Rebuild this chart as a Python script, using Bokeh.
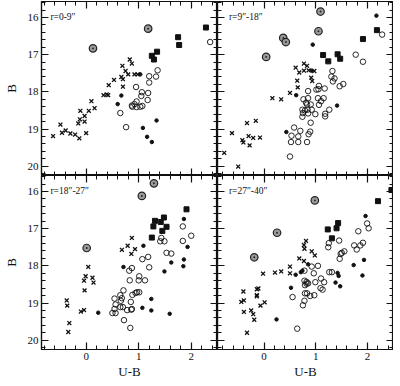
from bokeh.plotting import figure
from bokeh.layouts import gridplot
from bokeh.models import LinearAxis, Range1d, SingleIntervalTicker, CustomJSTickFormatter, Label
from bokeh.embed import file_html
from bokeh.resources import INLINE

# ---------------- data (U-B, B) ----------------
panel_labels = ["r=0-9″", "r=9″-18″", "r=18″-27″", "r=27″-40″"]

# Panel 1: r = 0-9"
p1_cross_x = [-0.63, -0.49, -0.46, -0.39, -0.30, -0.21, -0.13, 0.00, -0.15, -0.12, -0.03, -0.03, -0.11, 0.05, 0.16, 0.10,
              0.33, 0.39, 0.42, 0.43, 0.53, 0.70, 0.67, 0.70, 0.69, 0.75, 0.83, 0.87, 0.80, 0.92, 0.98]
p1_cross_y = [19.19, 18.88, 19.10, 19.04, 19.12, 19.15, 19.25, 19.11, 18.85, 18.74, 18.65, 18.80, 18.51, 18.51, 18.44, 18.25,
              18.09, 18.07, 18.09, 17.82, 17.68, 17.86, 17.60, 17.66, 17.30, 17.44, 17.13, 17.24, 17.53, 17.53, 17.53]
p1_open_x = [0.65, 0.76, 0.95, 1.06, 1.05, 0.96, 0.87, 0.92, 0.96, 1.03, 1.07, 0.88, 1.18, 1.17, 1.20, 1.20, 1.33, 1.36, 2.36]
p1_open_y = [18.57, 18.95, 17.87, 18.01, 18.11, 18.26, 18.37, 18.33, 18.41, 18.40, 18.38, 18.40, 18.03, 18.22, 17.58, 17.75,
             17.59, 17.42, 16.66]
p1_dot_x = [0.67, 0.60, 1.08, 1.16, 1.25, 1.34, 1.03]
p1_dot_y = [18.10, 18.33, 18.97, 19.21, 19.35, 18.77, 17.53]
p1_sq_x = [1.25, 1.29, 1.35, 1.75, 1.77, 2.28]
p1_sq_y = [17.03, 17.13, 16.92, 16.53, 16.74, 16.27]
p1_cd_x = [0.13, 1.18]
p1_cd_y = [16.83, 16.30]

# Panel 2: r = 9"-18"
p2_cross_x = [-0.77, -0.50, -0.62, -0.42, -0.40, -0.30, -0.28, -0.21, -0.08, -0.33, -0.16, 0.16, 0.33, 0.50, 0.65, 0.64,
              0.61, 0.68, 0.77, 0.83, 0.77, 0.86, 0.97, 0.91, 0.93]
p2_cross_y = [19.64, 20.01, 19.11, 19.30, 19.36, 19.19, 19.44, 19.24, 19.23, 18.84, 18.78, 18.17, 18.20, 18.03, 17.88, 17.70,
              17.35, 17.48, 17.24, 17.30, 17.43, 17.42, 17.44, 17.62, 17.71]
p2_open_x = [2.28, 1.77, 1.91, 1.32, 1.30, 1.36, 1.33, 1.53, 1.46, 1.06, 1.05, 1.17, 1.01, 0.85, 1.04, 1.15, 1.10, 0.85,
             1.06, 0.81, 0.83, 0.92, 0.84, 1.26, 0.99, 1.18, 1.18, 0.90, 0.89, 0.86, 0.83, 0.76, 0.90, 0.74, 0.79, 0.75,
             0.74, 0.85, 0.58, 0.70, 0.53, 0.66, 0.52, 0.66, 0.50]
p2_open_y = [16.46, 17.00, 17.19, 17.44, 17.59, 17.64, 17.72, 17.79, 17.85, 17.84, 17.93, 17.91, 17.94, 17.98, 18.17, 18.17,
             18.25, 18.17, 18.35, 18.29, 18.34, 18.48, 18.48, 18.48, 18.60, 18.59, 18.66, 18.83, 19.07, 19.14, 19.35,
             18.20, 18.34, 18.48, 18.50, 18.57, 18.67, 18.58, 18.96, 19.05, 19.18, 19.20, 19.35, 19.35, 19.74]
p2_dot_x = [0.62, 0.43, 0.94, 2.17, 1.41, 0.92]
p2_dot_y = [18.09, 19.08, 16.73, 15.95, 18.37, 17.43]
p2_sq_x = [1.14, 1.24, 1.42, 1.47, 1.91, 2.18]
p2_sq_y = [17.01, 17.18, 16.99, 17.11, 16.58, 16.34]
p2_cd_x = [0.04, 0.37, 0.42, 1.05, 1.09]
p2_cd_y = [17.06, 16.55, 16.66, 16.37, 15.84]

# Panel 3: r = 18"-27"
p3_cross_x = [-0.37, -0.36, -0.32, -0.34, -0.10, -0.04, -0.03, -0.04, -0.01, 0.04, 0.12, 0.14, 0.68, 0.79, 0.86, 0.87, 0.93]
p3_cross_y = [18.93, 19.07, 19.54, 19.78, 19.23, 19.19, 18.66, 18.40, 18.28, 18.03, 18.32, 18.45, 17.57, 17.46, 17.68, 17.25, 17.55]
p3_open_x = [1.84, 2.00, 1.84, 1.43, 1.41, 1.49, 1.53, 1.62, 1.07, 1.18, 1.20, 1.01, 1.00, 1.12, 0.97, 1.01, 0.87, 0.82,
             0.83, 0.71, 0.88, 0.94, 0.65, 0.54, 0.68, 0.66, 0.56, 0.85, 0.65, 0.70, 0.54, 0.78, 0.86, 0.87, 0.50, 0.56,
             0.72, 0.84]
p3_open_y = [16.94, 17.19, 17.33, 17.25, 17.34, 17.34, 17.65, 17.67, 17.82, 17.76, 18.04, 18.28, 18.39, 18.39, 18.71, 18.71,
             18.06, 18.13, 18.39, 18.66, 18.78, 18.73, 18.79, 18.88, 18.87, 18.94, 19.04, 18.97, 19.11, 19.11, 19.16,
             19.19, 19.18, 19.16, 19.27, 19.27, 19.46, 19.67]
p3_dot_x = [0.23, 0.71, 1.09, 1.24, 1.07, 1.24, 1.86, 1.93, 1.62, 1.86, 1.85, 1.49, 1.59]
p3_dot_y = [19.26, 18.03, 17.46, 18.89, 19.13, 19.20, 16.74, 17.49, 17.91, 17.83, 18.01, 18.15, 19.29]
p3_sq_x = [1.91, 1.48, 1.31, 1.42, 1.28, 1.53, 1.45, 1.25]
p3_sq_y = [16.48, 16.70, 16.79, 16.82, 16.94, 16.95, 17.06, 17.24]
p3_cd_x = [0.01, 1.06, 1.29]
p3_cd_y = [17.52, 16.12, 15.78]

# Panel 4: r = 27"-40"
p4_cross_x = [-0.33, -0.39, -0.40, -0.44, -0.39, -0.25, -0.21, -0.19, -0.14, -0.11, -0.14, -0.14, -0.07, 0.01, -0.02, 0.21,
              0.33, 0.50, 0.50, 0.68, 0.77, 0.77, 0.78, 0.81, 0.92, 0.98]
p4_cross_y = [19.80, 19.24, 18.69, 18.97, 18.93, 19.20, 19.30, 19.45, 18.63, 18.61, 18.79, 18.82, 19.07, 18.98, 18.21, 18.18,
              18.15, 18.02, 18.20, 17.80, 17.87, 17.44, 17.54, 17.33, 17.61, 17.72]
p4_open_x = [0.92, 1.04, 0.78, 0.96, 1.10, 0.78, 0.82, 0.85, 0.82, 0.79, 0.99, 1.09, 1.13, 0.79, 0.83, 0.89, 0.97, 0.55,
             0.78, 0.75, 0.64, 1.16, 1.26, 1.31, 1.25, 1.24, 1.45, 1.48, 1.55, 1.50, 1.46, 1.82, 1.74, 1.86, 1.91, 1.79,
             1.99, 2.02]
p4_open_y = [18.02, 18.00, 18.13, 18.20, 18.34, 18.40, 18.43, 18.47, 18.48, 18.52, 18.44, 18.60, 18.64, 18.74, 18.74, 18.81,
             18.79, 18.84, 18.94, 19.06, 19.69, 18.44, 18.17, 18.17, 17.39, 17.50, 17.32, 17.68, 17.61, 17.65, 17.81,
             17.07, 17.45, 17.45, 17.38, 17.56, 16.86, 16.99]
p4_dot_x = [0.61, 0.85, 0.71, 0.74, 0.52, 0.24, 1.96, 1.73, 1.93, 1.90, 1.42, 1.44, 1.38, 1.47]
p4_dot_y = [18.24, 17.96, 18.17, 18.13, 18.59, 19.44, 16.66, 17.98, 17.84, 18.26, 18.19, 18.27, 18.45, 18.55]
p4_sq_x = [1.23, 1.43, 1.40, 1.31, 2.20, 2.46]
p4_sq_y = [17.02, 16.85, 16.99, 17.26, 16.26, 15.96]
p4_cd_x = [-0.19, 0.25, 0.98]
p4_cd_y = [17.77, 17.11, 16.24]

# ---------------- layout ----------------
X_LEFT = (-0.85, 2.5)
X_RIGHT = (-0.9, 2.5)
Y_RANGE = (20.25, 15.57)   # reversed magnitude axis
FW, FH = 176, 174
FONT = "Liberation Serif"
INK = "#111111"


def add_axis(p, side, labelled, fixed=None, title=None):
    ax = LinearAxis(ticker=SingleIntervalTicker(interval=1, num_minor_ticks=5))
    ax.major_tick_in = 7
    ax.major_tick_out = 0
    ax.minor_tick_in = 4
    ax.minor_tick_out = 0
    ax.axis_line_color = INK
    ax.axis_line_width = 1.2
    ax.major_tick_line_color = INK
    ax.major_tick_line_width = 1.2
    ax.minor_tick_line_color = INK
    ax.minor_tick_line_width = 1
    if labelled:
        ax.major_label_text_font = FONT
        ax.major_label_text_font_size = "11px"
        ax.major_label_text_color = INK
        ax.major_label_standoff = 3
        if title:
            ax.axis_label = title
            ax.axis_label_text_font = FONT
            ax.axis_label_text_font_size = "13px"
            ax.axis_label_text_font_style = "normal"
            ax.axis_label_text_color = INK
            ax.axis_label_standoff = 6 if side == "left" else 1
    else:
        ax.formatter = CustomJSTickFormatter(code="return ''")
        ax.fixed_location = fixed
    p.add_layout(ax, side)


def make_panel(xr, top_row, left_col, data, label):
    p = figure(frame_width=FW, frame_height=FH, x_range=Range1d(*xr), y_range=Range1d(*Y_RANGE),
               output_backend="svg", toolbar_location=None, x_axis_location=None, y_axis_location=None,
               min_border=0)
    if top_row:
        p.min_border_top = 1
    p.grid.visible = False
    p.outline_line_color = INK
    p.outline_line_width = 1.2
    p.background_fill_color = "white"
    p.border_fill_color = "white"

    # axes on all four sides
    add_axis(p, "left", left_col, fixed=xr[0], title="B" if left_col else None)
    add_axis(p, "right", False, fixed=xr[1])
    add_axis(p, "above", False, fixed=Y_RANGE[1])
    add_axis(p, "below", not top_row, fixed=Y_RANGE[0], title=None if top_row else "U-B")

    cx, cy, ox, oy, dx, dy, sx, sy, kx, ky = data
    p.scatter(cx, cy, marker="x", size=5.5, line_color=INK, line_width=1.3)
    p.scatter(ox, oy, marker="circle", size=5.5, fill_color=None, line_color=INK, line_width=0.9)
    p.scatter(dx, dy, marker="circle", size=3.5, fill_color=INK, line_color=INK)
    p.scatter(sx, sy, marker="square", size=5, fill_color=INK, line_color=INK)
    p.scatter(kx, ky, marker="circle_dot", size=7.5, fill_color="#9a9a9a", line_color="#222222", line_width=1.2)

    p.add_layout(Label(x=-0.68, y=16.0, text=label, text_font=FONT, text_font_size="9.5px",
                       text_color=INK, text_baseline="middle", text_align="left"))
    return p


tl = make_panel(X_LEFT, True, True,
                (p1_cross_x, p1_cross_y, p1_open_x, p1_open_y, p1_dot_x, p1_dot_y, p1_sq_x, p1_sq_y, p1_cd_x, p1_cd_y),
                panel_labels[0])
tr = make_panel(X_RIGHT, True, False,
                (p2_cross_x, p2_cross_y, p2_open_x, p2_open_y, p2_dot_x, p2_dot_y, p2_sq_x, p2_sq_y, p2_cd_x, p2_cd_y),
                panel_labels[1])
bl = make_panel(X_LEFT, False, True,
                (p3_cross_x, p3_cross_y, p3_open_x, p3_open_y, p3_dot_x, p3_dot_y, p3_sq_x, p3_sq_y, p3_cd_x, p3_cd_y),
                panel_labels[2])
br = make_panel(X_RIGHT, False, False,
                (p4_cross_x, p4_cross_y, p4_open_x, p4_open_y, p4_dot_x, p4_dot_y, p4_sq_x, p4_sq_y, p4_cd_x, p4_cd_y),
                panel_labels[3])

grid = gridplot([[tl, tr], [bl, br]], toolbar_location=None)

open("out.html", "w").write(file_html(grid, INLINE))
